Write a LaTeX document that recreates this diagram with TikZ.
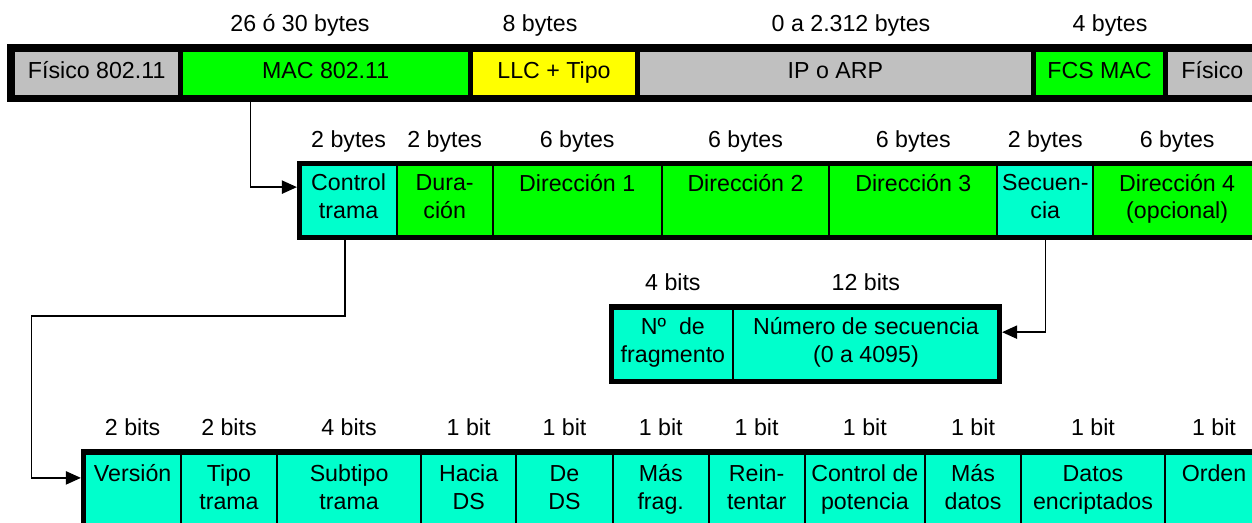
\documentclass[tikz,border=0pt]{standalone}
\usepackage{fontspec}
\setmainfont{Liberation Sans}
\usetikzlibrary{arrows.meta}
\definecolor{gris}{RGB}{192,192,192}
\definecolor{verde}{RGB}{0,255,0}
\definecolor{amarillo}{RGB}{255,255,0}
\definecolor{aqua}{RGB}{0,255,204}
\begin{document}
\begin{tikzpicture}[x=0.02cm, y=-0.02cm, font=\fontsize{13.2}{15.8}\selectfont,
		campo/.style={draw, inner sep=0pt, align=center, execute at begin node=\strut, execute at end node=\strut},
		fino/.style={campo, line width=1.1pt},
		grueso/.style={campo, line width=2.8pt},
		marco/.style={line width=3.1pt},
		tam/.style={inner sep=0pt, anchor=base},
		flecha/.style={line width=0.8pt, -{Triangle[length=8.6pt,width=7.6pt]}, shorten >=1.5pt}]
	\path[use as bounding box, clip] (0,0) rectangle (1252,522);
	% trama 802.11
	\def\medio{73.2} \def\alto{48}
	\foreach \nm/\xa/\xb/\col/\txt in {fis/12.5/180.8/gris/Físico 802.11, mac/180.8/470.5/verde/MAC 802.11, llc/470.5/637.5/amarillo/LLC + Tipo, ip/637.5/1033.3/gris/IP o ARP, fcs/1033.3/1165.8/verde/FCS MAC, fisb/1165.8/1259/gris/Físico}
		\node[grueso, fill=\col, minimum width={(\xb-\xa)*0.02cm}, minimum height={\alto*0.02cm}] (\nm) at ({(\xa+\xb)/2},\medio) {\txt};
	\draw[marco] (fis.north west) rectangle (fisb.south east);
	\node[tam] (t-mac) at (300,31.7) {26 ó 30 bytes};
	\node[tam] (t-llc) at (540,31.7) {8 bytes};
	\node[tam] (t-ip) at (851,31.7) {0 a 2.312 bytes};
	\node[tam] (t-fcs) at (1110,31.7) {4 bytes};
	% cabecera MAC
	\def\medio{200.6} \def\alto{72.2}
	\foreach \nm/\xa/\xb/\col/\txt/\tm in {ctl/300.5/396.7/aqua/Control\\trama/2 bytes, dur/396.7/492.7/verde/Dura-\\ción/2 bytes, dir1/492.7/661.7/verde/Dirección 1\\/6 bytes, dir2/661.7/829.3/verde/Dirección 2\\/6 bytes, dir3/829.3/997.3/verde/Dirección 3\\/6 bytes, sec/997.3/1093.3/aqua/Secuen-\\cia/2 bytes, dir4/1093.3/1261/verde/Dirección 4\\(opcional)/6 bytes}{
		\node[fino, fill=\col, minimum width={(\xb-\xa)*0.02cm}, minimum height={\alto*0.02cm}] (\nm) at ({(\xa+\xb)/2},\medio) {\txt};
		\node[tam] (t-\nm) at ([yshift=0.33cm]\nm.north) {\tm};
	}
	\draw[marco] (ctl.north west) rectangle (dir4.south east);
	% secuencia
	\def\medio{344.15} \def\alto{72.3}
	\foreach \nm/\xa/\xb/\col/\txt/\tm in {nfr/612.5/733.3/aqua/Nº\ \ de\\fragmento/4 bits, nsec/733.3/998.5/aqua/Número de secuencia\\(0 a 4095)/12 bits}{
		\node[fino, fill=\col, minimum width={(\xb-\xa)*0.02cm}, minimum height={\alto*0.02cm}] (\nm) at ({(\xa+\xb)/2},\medio) {\txt};
		\node[tam] (t-\nm) at ([yshift=0.33cm]\nm.north) {\tm};
	}
	\draw[marco] (nfr.north west) rectangle (nsec.south east);
	% control de trama
	\def\medio{491.4} \def\alto{77.25}
	\foreach \nm/\xa/\xb/\col/\txt/\tm in {ver/84.5/180.8/aqua/Versión\\/2 bits, tip/180.8/277.2/aqua/Tipo\\trama/2 bits, sub/277.2/421/aqua/Subtipo\\trama/4 bits, hds/421/516.3/aqua/Hacia\\DS/1 bit, dds/516.3/612.7/aqua/De\\DS/1 bit, mfr/612.7/708.7/aqua/Más\\frag./1 bit, rein/708.7/804.6/aqua/Rein-\\tentar/1 bit, pot/804.6/925.1/aqua/Control de\\potencia/1 bit, mdat/925.1/1021/aqua/Más\\datos/1 bit, enc/1021/1165/aqua/Datos\\encriptados/1 bit, ord/1165/1263/aqua/Orden\\/1 bit}{
		\node[fino, fill=\col, minimum width={(\xb-\xa)*0.02cm}, minimum height={\alto*0.02cm}] (\nm) at ({(\xa+\xb)/2},\medio) {\txt};
		\node[tam] (t-\nm) at ([yshift=0.33cm]\nm.north) {\tm};
	}
	\draw[marco] (ver.north west) rectangle (ord.south east);
	% conexiones
	\coordinate (codo) at (31.7,316);
	\draw[flecha] ([xshift=1.44cm]mac.south west) |- ([yshift=0.27cm]ctl.west);
	\draw[flecha] ([xshift=-0.07cm]ctl.south) |- (codo) |- ([yshift=0.27cm]ver.west);
	\draw[flecha] (sec.south) |- ([yshift=0.24cm]nsec.east);
\end{tikzpicture}
\end{document}
